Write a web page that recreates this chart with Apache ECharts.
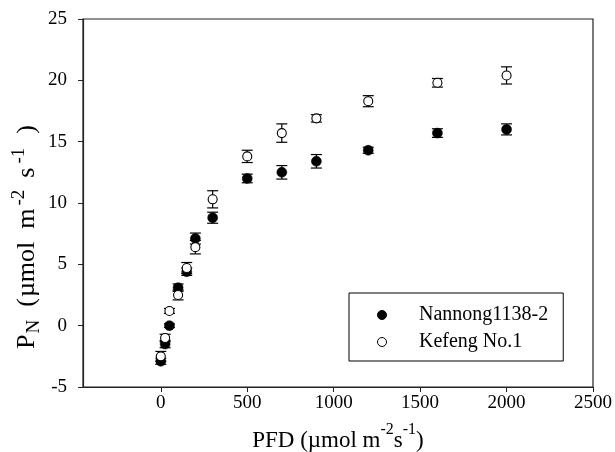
<!DOCTYPE html>
<html><head><meta charset="utf-8">
<script src="https://cdn.jsdelivr.net/npm/echarts@6/dist/echarts.min.js"></script>
<style>html,body{margin:0;padding:0;background:#fff}#c{width:615px;height:452px}</style>
</head><body><div id="c"></div>
<script>
var pfd = [0, 25, 50, 100, 150, 200, 300, 500, 700, 900, 1200, 1600, 2000];
var nannong = [-2.9, -1.5, 0.0, 3.1, 4.4, 7.1, 8.8, 12.0, 12.5, 13.4, 14.3, 15.7, 16.0];
var nannongErr = [0.25, 0.3, 0.15, 0.3, 0.3, 0.45, 0.45, 0.35, 0.55, 0.55, 0.25, 0.35, 0.45];
var kefeng = [-2.5, -1.0, 1.2, 2.5, 4.7, 6.4, 10.3, 13.8, 15.7, 16.9, 18.3, 19.8, 20.4];
var kefengErr = [0.4, 0.3, 0.2, 0.4, 0.45, 0.55, 0.7, 0.5, 0.75, 0.3, 0.45, 0.35, 0.7];
var xTicks = [0, 500, 1000, 1500, 2000, 2500];

var FONT = '"Liberation Serif", "Times New Roman", serif';
var AX = '#222';

function pts(ys) { return pfd.map(function (x, i) { return [x, ys[i]]; }); }
function errData(ys, es) { return pfd.map(function (x, i) { return [x, ys[i] - es[i], ys[i] + es[i]]; }); }
function errRender(params, api) {
  var x = api.value(0), lo = api.value(1), hi = api.value(2);
  var pLo = api.coord([x, lo]), pHi = api.coord([x, hi]);
  var w = 5.5;
  var st = { stroke: '#000', lineWidth: 1.2 };
  return { type: 'group', children: [
    { type: 'line', shape: { x1: pLo[0], y1: pLo[1], x2: pHi[0], y2: pHi[1] }, style: st },
    { type: 'line', shape: { x1: pLo[0] - w, y1: pLo[1], x2: pLo[0] + w, y2: pLo[1] }, style: st },
    { type: 'line', shape: { x1: pHi[0] - w, y1: pHi[1], x2: pHi[0] + w, y2: pHi[1] }, style: st }
  ]};
}
function tok(size, va, padL) {
  return { fontFamily: FONT, fontSize: size, color: '#000', lineHeight: 34, verticalAlign: va, padding: [0, 0, 0, padL] };
}

var chart = echarts.init(document.getElementById('c'), null, { renderer: 'canvas' });
chart.setOption({
  animation: false,
  backgroundColor: '#fff',
  grid: { left: 83, right: 21, top: 19, bottom: 65, show: true, borderColor: AX, borderWidth: 1.2, backgroundColor: 'transparent' },
  xAxis: {
    type: 'value', min: -450, max: 2500,
    axisLine: { show: true, onZero: false, lineStyle: { color: AX, width: 1.2 } },
    axisTick: { show: true, inside: false, length: 5, customValues: xTicks, lineStyle: { color: AX } },
    axisLabel: { customValues: xTicks, margin: 7, fontFamily: FONT, fontSize: 19, color: '#000',
      formatter: function (v) { return String(v); } },
    splitLine: { show: false }
  },
  yAxis: {
    type: 'value', min: -5, max: 25, interval: 5,
    axisLine: { show: true, onZero: false, lineStyle: { color: AX, width: 1.2 } },
    axisTick: { show: true, inside: false, length: 5, lineStyle: { color: AX } },
    axisLabel: { margin: 16, fontFamily: FONT, fontSize: 19, color: '#000' },
    splitLine: { show: false }
  },
  legend: {
    orient: 'vertical', left: 349, top: 293,
    borderColor: '#000', borderWidth: 1, backgroundColor: '#fff',
    padding: [12, 15, 9, 28],
    itemWidth: 64, itemHeight: 9, itemGap: 7,
    textStyle: { fontFamily: FONT, fontSize: 20, color: '#000', lineHeight: 20 },
    data: [
      { name: 'Nannong1138-2', icon: 'circle', itemStyle: { color: '#000', borderColor: '#000', borderWidth: 1 } },
      { name: 'Kefeng No.1', icon: 'circle', itemStyle: { color: '#fff', borderColor: '#000', borderWidth: 1 } }
    ]
  },
  graphic: [
    { type: 'text', x: 338, y: 437, silent: true,
      style: {
        text: '{m|PFD (µmol m}{s|-2}{m|s}{s|-1}{m|)}',
        align: 'center', verticalAlign: 'middle',
        rich: {
          m: { fontFamily: FONT, fontSize: 23, color: '#000', lineHeight: 30, verticalAlign: 'bottom' },
          s: { fontFamily: FONT, fontSize: 16, color: '#000', lineHeight: 30, verticalAlign: 'top' }
        }
      } },
    { type: 'text', x: 27, y: 237, rotation: Math.PI / 2, silent: true,
      style: {
        text: '{a|P}{b|N}{c|(}{d|µmol}{e|m}{f|-2}{g|s}{h|-1}{i|)}',
        align: 'center', verticalAlign: 'middle',
        rich: {
          a: tok(26, 'middle', 0),
          b: tok(19, 'bottom', 1),
          c: tok(26, 'middle', 13),
          d: tok(26, 'middle', 1),
          e: tok(26, 'middle', 13),
          f: tok(19, 'top', 3),
          g: tok(26, 'middle', 12),
          h: tok(19, 'top', 4),
          i: tok(26, 'middle', 14)
        }
      } }
  ],
  series: [
    { type: 'custom', name: 'errN', renderItem: errRender, data: errData(nannong, nannongErr), z: 1, encode: { x: 0, y: [1, 2] } },
    { type: 'custom', name: 'errK', renderItem: errRender, data: errData(kefeng, kefengErr), z: 1, encode: { x: 0, y: [1, 2] } },
    { type: 'scatter', name: 'Nannong1138-2', data: pts(nannong), symbol: 'circle', symbolSize: 10, z: 3,
      itemStyle: { color: '#000', borderColor: '#000', borderWidth: 0.5, opacity: 1 } },
    { type: 'scatter', name: 'Kefeng No.1', data: pts(kefeng), symbol: 'circle', symbolSize: 9, z: 4,
      itemStyle: { color: '#fff', borderColor: '#000', borderWidth: 1.1, opacity: 1 } }
  ]
});
</script>
</body></html>
